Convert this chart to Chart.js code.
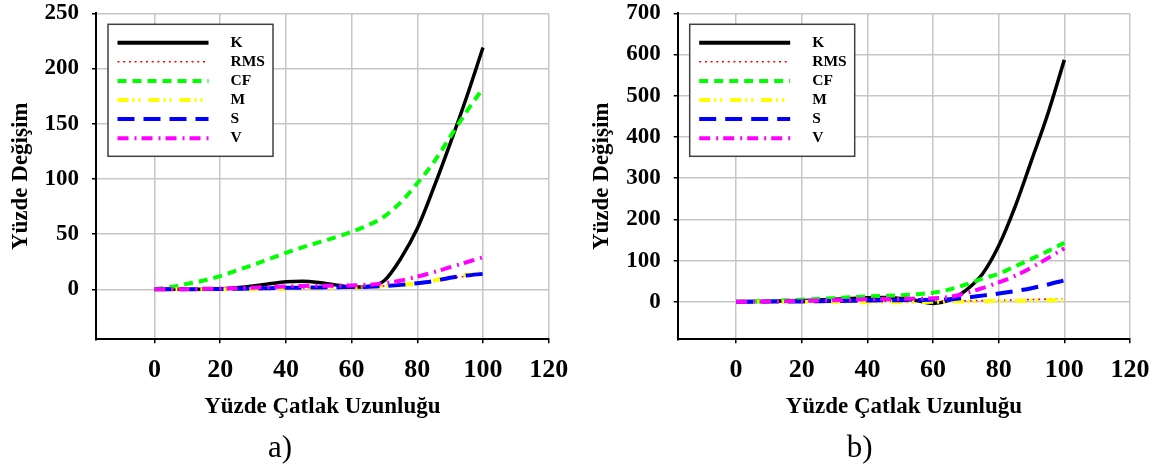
<!DOCTYPE html>
<html><head><meta charset="utf-8">
<script src="https://cdn.jsdelivr.net/npm/chart.js@4/dist/chart.umd.min.js"></script>
<style>
html,body{margin:0;padding:0;background:#fff;}
#wrap{position:relative;width:1176px;height:464px;overflow:hidden;background:#fff;}
canvas{position:absolute;top:0;}
</style></head><body>
<div id="wrap">
<canvas id="ca" width="588" height="464" style="left:0px"></canvas>
<canvas id="cb" width="588" height="464" style="left:588px"></canvas>
</div>
<script>
// ---- data ----
const crackPct = [0,5,10,15,20,25,30,35,40,45,50,55,60,65,70,75,80,85,90,95,100];
const seriesNames = ['K','RMS','CF','M','S','V'];
const xTickLabels = [0,20,40,60,80,100,120];
const yTicksA = [0,50,100,150,200,250];
const yTicksB = [0,100,200,300,400,500,600,700];

// chart a)
const K_a   = [0,0,0,0.2,0.5,1.5,3,5,6.8,7.3,6.2,4,2,2.5,8,28,55,92,132,174,219];
const RMS_a = [0,0,0,0,0.2,0.3,0.5,0.7,1,1.2,1.5,1.7,2,2.3,3,4,5.5,7.5,10,12,14];
const CF_a  = [0,2,5,8,12,17,22,27.5,33,38,42.5,47,52,58,66,79,96,115,138,161,182];
const M_a   = [0,0,0,0,0,0,0.2,0.4,0.6,0.8,1,1.2,1.5,2,3,4,5.5,8,11,13,15];
const S_a   = [0,0,0,0.2,0.3,0.5,0.7,1,1.3,1.5,1.7,1.8,2,2.3,3,4,5.5,7.5,10.5,12.5,14];
const V_a   = [0,0,0.2,0.4,0.7,1,1.5,2,2.5,3,3.2,3.3,3.5,4,5.5,8,11.5,15.5,20,24.5,29];

// chart b)
const K_b   = [0,0.5,1,2,3,4.5,6,8,10,10.5,8,3,-4,4,28,67,136,231,343,457,587];
const RMS_b = [0,0,0,0,0.2,0.3,0.5,0.7,1,1.2,1.4,1.6,1.8,2,2.5,3,3.5,4.5,5.5,6.5,7.5];
const CF_b  = [0,1,2,3.5,5,7,9,11,13,14.5,16,18.5,22,30,42,56,68,86,104,123,143];
const M_b   = [0,0,0,0,0,0,0,-0.5,-1,-1,-1,-0.5,0,0.5,1,1.5,2,2.5,3,3.5,4];
const S_b   = [0,0.2,0.5,0.8,1,1.5,2,2.5,3,3.5,4,4.5,5,6,10,15,20,26,33,42,52];
const V_b   = [0,0.5,1,1.5,2,3,4,5,6,6.5,7,7.5,8.5,12,21,33,47,63,83,106,130];

// ---- styles ----
const styles = [
  {color:'#000000', width:3.5, dash:[]},
  {color:'#ff0000', width:1.6, dash:[2,3.7]},
  {color:'#00ff00', width:4, dash:[9,6]},
  {color:'#ffff00', width:4, dash:[11,4,2,4,2,8]},
  {color:'#0000ff', width:4, dash:[17,9]},
  {color:'#ff00ff', width:4, dash:[11,6,2,5]}
];
const FONT = "'Liberation Serif','Times New Roman',serif";

function boxLegendAndCaption(caption, captionDx) {
  return {
    id: 'boxLegend',
    afterDraw(chart) {
      const ctx = chart.ctx, ca = chart.chartArea;
      const L = ca.left + 12, T = ca.top + 11, W = 165, H = 132;
      ctx.save();
      ctx.fillStyle = '#fff';
      ctx.fillRect(L, T, W, H);
      ctx.strokeStyle = '#404040';
      ctx.lineWidth = 1.5;
      ctx.strokeRect(L, T, W, H);
      chart.data.datasets.forEach((ds, i) => {
        const y = T + 18.4 + i * 19.1;
        ctx.beginPath();
        ctx.strokeStyle = ds.borderColor;
        ctx.lineWidth = i === 0 ? 4 : ds.borderWidth;
        ctx.setLineDash(ds.borderDash || []);
        ctx.moveTo(L + 9.5, y);
        ctx.lineTo(L + 100.5, y);
        ctx.stroke();
        ctx.setLineDash([]);
        ctx.fillStyle = '#000';
        ctx.font = "bold 15.5px " + FONT;
        ctx.textBaseline = 'middle';
        ctx.textAlign = 'left';
        ctx.fillText(ds.label, L + 122.5, y);
      });
      ctx.font = "31px " + FONT;
      ctx.textAlign = 'center';
      ctx.textBaseline = 'middle';
      ctx.fillStyle = '#000';
      ctx.fillText(caption, ca.left + captionDx, 449);
      ctx.restore();
    }
  };
}

function makeChart(id, data, yMin, yMax, yTicks, geo, caption) {
  const datasets = data.map((vals, i) => ({
    label: seriesNames[i],
    data: crackPct.map((x, j) => ({x: x, y: vals[j]})),
    borderColor: styles[i].color,
    borderWidth: styles[i].width,
    borderDash: styles[i].dash,
    pointRadius: 0,
    fill: false,
    cubicInterpolationMode: 'monotone',
    order: data.length - i
  }));
  return new Chart(document.getElementById(id), {
    type: 'line',
    data: { datasets },
    options: {
      responsive: false,
      animation: false,
      layout: { padding: { top: 13.3, right: geo.padRight, bottom: 0, left: 0 } },
      plugins: { legend: { display: false }, tooltip: { enabled: false } },
      scales: {
        x: {
          type: 'linear',
          min: -17.8, max: 120,
          afterBuildTicks: s => { s.ticks = xTickLabels.map(v => ({value: v})); },
          afterFit: s => { s.height = 124.7; s.paddingLeft = 0; s.paddingRight = 0; },
          grid: { color: '#c6c6c6', lineWidth: 1.5, tickColor: '#000', tickLength: 4, tickWidth: 1.5 },
          border: { display: true, color: '#000', width: 2 },
          ticks: { color: '#000', padding: 11.2, maxRotation: 0, font: { family: FONT, size: 26, weight: 'bold' } },
          title: { display: true, text: 'Yüzde Çatlak Uzunluğu', color: '#000',
                   padding: { top: 0, bottom: 43.2 }, font: { family: FONT, size: 23, weight: 'bold' } }
        },
        y: {
          type: 'linear',
          min: yMin, max: yMax,
          afterBuildTicks: s => { s.ticks = yTicks.map(v => ({value: v})); },
          afterFit: s => { s.width = geo.yWidth; s.paddingTop = 0; s.paddingBottom = 0; },
          grid: { color: '#c6c6c6', lineWidth: 1.5, tickColor: '#000', tickLength: 4, tickWidth: 1.5 },
          border: { display: true, color: '#000', width: 2 },
          ticks: { color: '#000', padding: 13, font: { family: FONT, size: 23, weight: 'bold' } },
          title: { display: true, text: 'Yüzde Değişim', color: '#000',
                   padding: { top: geo.yTitlePad, bottom: 0 }, font: { family: FONT, size: 23, weight: 'bold' } }
        }
      }
    },
    plugins: [boxLegendAndCaption(caption, geo.captionDx)]
  });
}

makeChart('ca', [K_a, RMS_a, CF_a, M_a, S_a, V_a], -45.3, 250, yTicksA,
  { padRight: 39.3, yWidth: 96, yTitlePad: 7.2, captionDx: 184 }, 'a)');
makeChart('cb', [K_b, RMS_b, CF_b, M_b, S_b, V_b], -91, 700, yTicksB,
  { padRight: 46, yWidth: 89.7, yTitlePad: 0.2, captionDx: 182 }, 'b)');
</script>
</body></html>
